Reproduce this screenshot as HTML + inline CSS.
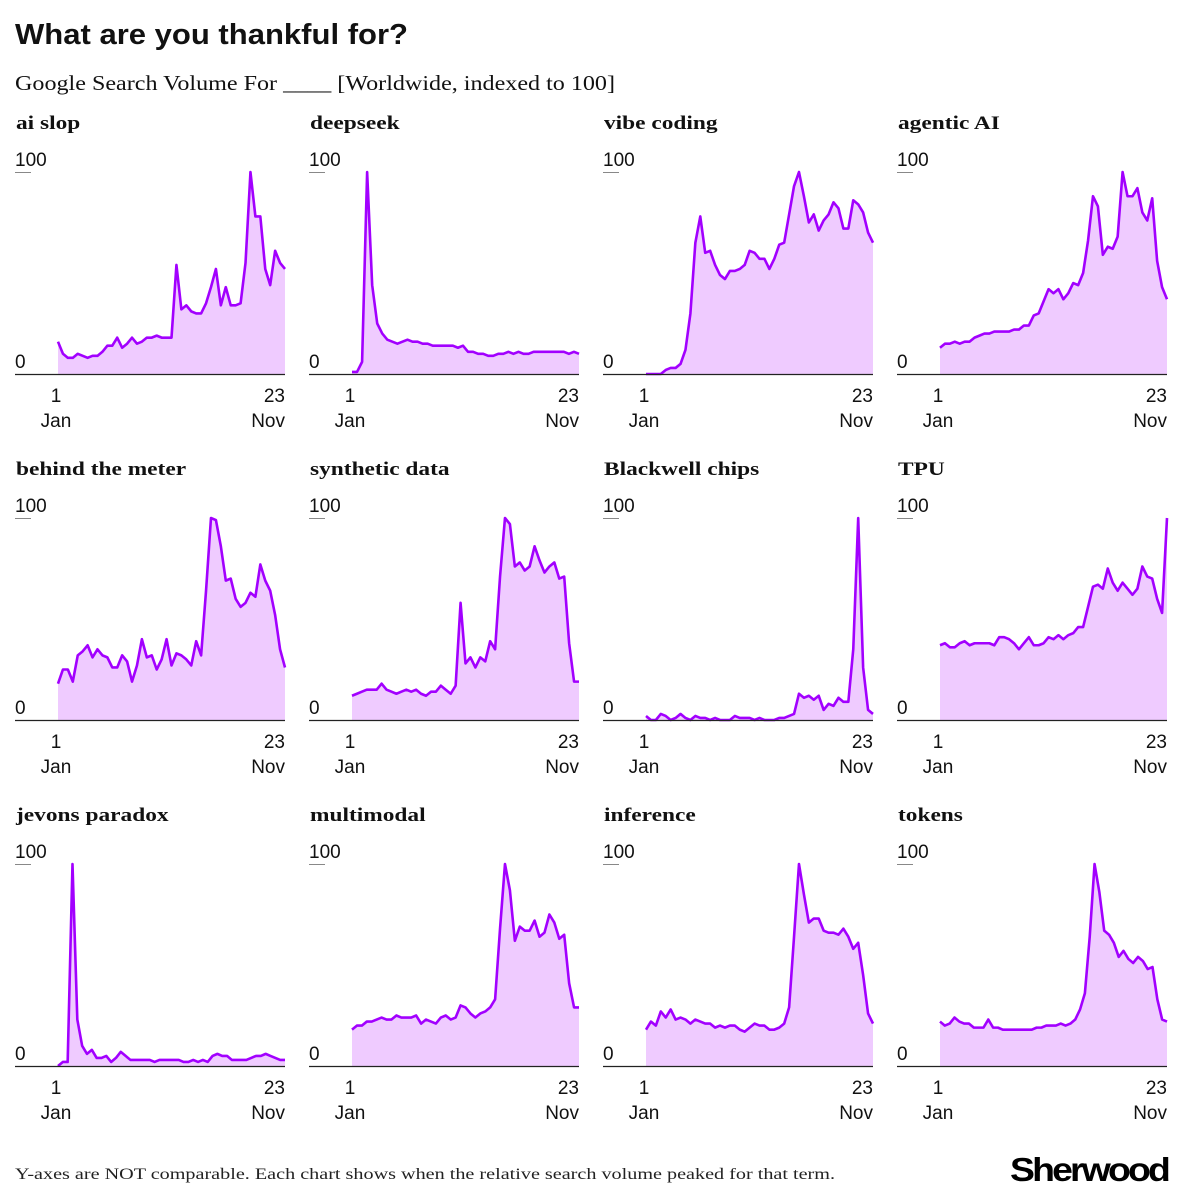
<!DOCTYPE html>
<html><head><meta charset="utf-8">
<style>
html,body{margin:0;padding:0;background:#fff;}
body{width:1182px;height:1198px;position:relative;overflow:hidden;}
svg{position:absolute;left:0;top:0;}
.t{font-family:"Liberation Sans",sans-serif;}
.s{font-family:"Liberation Serif",serif;}
</style></head>
<body>
<svg id="chart" width="1182" height="1198" viewBox="0 0 1182 1198">
<text x="15" y="44" class="t" font-size="29" font-weight="bold" fill="#111" textLength="393" lengthAdjust="spacingAndGlyphs">What are you thankful for?</text>
<text x="15" y="90" class="s" font-size="21" fill="#111" textLength="600" lengthAdjust="spacingAndGlyphs">Google Search Volume For ____ [Worldwide, indexed to 100]</text>
<text x="15" y="1179" class="s" font-size="16" fill="#222" textLength="820" lengthAdjust="spacingAndGlyphs">Y-axes are NOT comparable. Each chart shows when the relative search volume peaked for that term.</text>
<text x="1010" y="1181" class="t" font-size="33" font-weight="bold" letter-spacing="-2.5" fill="#000" textLength="158" lengthAdjust="spacingAndGlyphs">Sherwood</text>
<g id="panels"></g>
</svg>
<script>
const terms = ["ai slop","deepseek","vibe coding","agentic AI","behind the meter","synthetic data","Blackwell chips","TPU","jevons paradox","multimodal","inference","tokens"];
const aiSlop = [16,10,8,8,10,9,8,9,9,11,14,14,18,13,15,18,15,16,18,18,19,18,18,18,54,32,34,31,30,30,35,43,52,34,43,34,34,35,55,100,78,78,52,44,61,55,52];
const deepseek = [1,1,6,100,44,25,20,17,16,15,16,17,16,16,15,15,14,14,14,14,14,13,14,11,11,10,10,9,9,10,10,11,10,11,10,10,11,11,11,11,11,11,11,10,11,10];
const vibeCoding = [0,0,0,0,2,3,3,5,12,30,65,78,60,61,54,49,47,51,51,52,54,61,60,57,57,52,57,64,65,79,93,100,88,75,79,71,76,79,85,82,72,72,86,84,80,70,65];
const agenticAI = [13,15,15,16,15,16,16,18,19,20,20,21,21,21,21,22,22,24,24,29,30,36,42,40,42,37,40,45,44,50,66,88,83,59,63,62,68,100,88,88,92,80,76,87,56,43,37];
const behindMeter = [18,25,25,19,32,34,37,31,35,32,31,26,26,32,29,19,27,40,31,32,25,30,40,27,33,32,30,27,39,32,64,100,99,86,69,70,60,56,58,63,61,77,69,64,52,35,26];
const syntheticData = [12,13,14,15,15,15,18,15,14,13,14,15,14,15,13,12,14,14,17,15,13,17,58,28,31,26,31,29,39,35,71,100,97,76,78,74,76,86,79,73,76,78,70,71,38,19,19];
const blackwell = [2,0,0,3,2,0,1,3,1,0,2,1,1,0,1,0,0,0,2,1,1,1,0,1,0,0,0,1,1,2,3,13,11,12,10,12,5,8,7,11,9,9,35,100,26,5,3];
const tpu = [37,38,36,36,38,39,37,38,38,38,38,37,41,41,40,38,35,38,41,37,37,38,41,40,42,40,42,43,46,46,56,66,67,65,75,68,64,68,65,62,65,76,71,70,60,53,100];
const jevons = [0,2,2,100,23,10,6,8,4,4,5,2,4,7,5,3,3,3,3,3,2,3,3,3,3,3,2,2,3,2,3,2,5,6,5,5,3,3,3,3,4,5,5,6,5,4,3,3];
const multimodal = [18,20,20,22,22,23,24,23,23,25,24,24,24,25,21,23,22,21,24,25,23,24,30,29,26,24,26,27,29,33,68,100,87,62,69,67,67,72,64,66,75,71,63,65,41,29,29];
const inference = [18,22,20,27,24,28,23,24,23,21,23,22,21,21,19,20,19,20,20,18,17,19,21,20,20,18,18,19,21,29,64,100,85,71,73,73,67,66,66,65,68,64,58,61,45,26,21];
const tokens = [22,20,21,24,22,21,21,19,19,19,23,19,19,18,18,18,18,18,18,18,19,19,20,20,20,21,20,21,23,28,36,64,100,86,67,65,61,54,57,53,51,54,52,48,49,33,23,22];
const series = [aiSlop,deepseek,vibeCoding,agenticAI,behindMeter,syntheticData,blackwell,tpu,jevons,multimodal,inference,tokens];
const yTicks = ["100","0"];
const xTickTop = ["1","23"];
const xTickBottom = ["Jan","Nov"];

const NS = "http://www.w3.org/2000/svg";
const root = document.getElementById("panels");
function mk(tag, attrs, parent){
  const e = document.createElementNS(NS, tag);
  for (const k in attrs) e.setAttribute(k, attrs[k]);
  parent.appendChild(e);
  return e;
}
function slug(s){return s.toLowerCase().replace(/[^a-z0-9]+/g,'-');}

terms.forEach((term, i) => {
  const col = i % 4, row = Math.floor(i / 4);
  const x0 = 15 + col * 294;
  const base = 374 + row * 346;
  const top = base - 202;
  const xs = (j, n) => x0 + 43 + (227 * j) / (n - 1);
  const ys = v => base - (v / 100) * 202;
  const g = mk("g", {}, root);
  
  

  const title = mk("text", {x: x0 + 1, y: base - 245, "class": "s", "font-size": 19, "font-weight": "bold", fill: "#111"}, g);
  title.textContent = term;
  
  
  try {
    const L = title.getComputedTextLength();
    if (L > 0) { title.setAttribute("textLength", (L * 1.23).toFixed(1)); title.setAttribute("lengthAdjust", "spacingAndGlyphs"); }
  } catch (e) {}

  const data = series[i];
  const n = data.length;
  let d = "M" + xs(0, n) + "," + base;
  data.forEach((v, j) => { d += " L" + xs(j, n).toFixed(2) + "," + ys(v).toFixed(2); });
  d += " L" + xs(n - 1, n) + "," + base + " Z";
  const area = mk("path", {d: d, fill: "#efcbff", stroke: "none"}, g);
  
  

  let ld = "";
  data.forEach((v, j) => { ld += (j ? " L" : "M") + xs(j, n).toFixed(2) + "," + ys(v).toFixed(2); });
  const line = mk("path", {d: ld, fill: "none", stroke: "#a200ff", "stroke-width": 2.6, "stroke-linejoin": "round"}, g);
  
  

  const axis = mk("line", {x1: x0, x2: x0 + 270, y1: base + 0.5, y2: base + 0.5, stroke: "#222", "stroke-width": 1.2}, g);
  
  

  const ul = mk("line", {x1: x0, x2: x0 + 16, y1: top + 0.5, y2: top + 0.5, stroke: "#888", "stroke-width": 1}, g);
  
  

  const yt1 = mk("text", {x: x0, y: top - 6, "class": "t", "font-size": 19, fill: "#111"}, g);
  yt1.textContent = yTicks[0];
  
  
  const yt0 = mk("text", {x: x0, y: base - 6, "class": "t", "font-size": 19, fill: "#111"}, g);
  yt0.textContent = yTicks[1];
  
  

  const xa = mk("text", {x: x0 + 41, y: base + 28, "class": "t", "font-size": 19, fill: "#111", "text-anchor": "middle"}, g);
  xa.textContent = xTickTop[0];
  
  
  const xb = mk("text", {x: x0 + 41, y: base + 53, "class": "t", "font-size": 19, fill: "#111", "text-anchor": "middle"}, g);
  xb.textContent = xTickBottom[0];
  
  
  const xc = mk("text", {x: x0 + 270, y: base + 28, "class": "t", "font-size": 19, fill: "#111", "text-anchor": "end"}, g);
  xc.textContent = xTickTop[1];
  
  
  const xd = mk("text", {x: x0 + 270, y: base + 53, "class": "t", "font-size": 19, fill: "#111", "text-anchor": "end"}, g);
  xd.textContent = xTickBottom[1];
  
  
});
</script>
</body></html>
